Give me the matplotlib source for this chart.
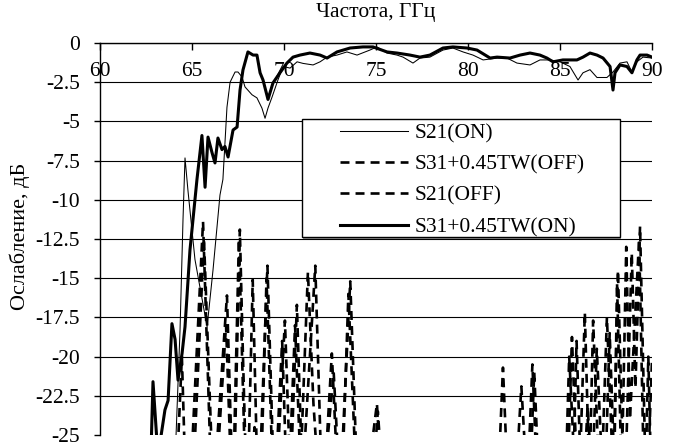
import numpy as np
import matplotlib
matplotlib.use("Agg")
import matplotlib.pyplot as plt
from matplotlib.patches import Rectangle

plt.rcParams['font.family'] = ['Liberation Serif', 'DejaVu Serif']

# S21(ON) - thin solid
f_s21_on = [63.9, 64.13, 64.35, 64.51, 64.62, 64.78, 65.16, 65.82, 66.14, 66.52, 66.68, 66.90,
            67.07, 67.34, 67.50, 67.72, 67.88, 68.26, 68.53, 68.80, 68.97, 69.13, 69.35, 69.67,
            69.95, 70.33, 70.71, 71.03, 71.58, 71.96, 72.34, 72.88, 73.42, 73.97, 74.67, 75.05,
            75.60, 76.14, 76.47, 77.01, 77.39, 77.93, 78.64, 79.18, 79.73, 80.27, 80.82, 81.58,
            82.12, 82.66, 83.37, 83.91, 84.46, 85.00, 85.54, 85.98, 86.25, 86.63, 87.01, 87.55,
            87.88, 88.26, 88.64, 88.91, 89.18, 89.51, 90.0]
s21_on = [-30, -25.1, -18.3, -11.3, -7.33, -9.4, -13.8, -18.1, -14.5, -9.7, -8.7, -4.1,
          -2.5, -1.85, -1.85, -2.17, -2.8, -3.3, -3.5, -4.15, -4.8, -4.15, -3.45, -2.36,
          -1.5, -1.6, -1.2, -1.3, -1.4, -1.2, -0.9, -0.77, -0.57, -0.77, -0.45, -0.25,
          -0.64, -0.77, -0.9, -1.28, -0.96, -0.9, -0.45, -0.32, -0.57, -0.77, -1.08, -0.96,
          -0.96, -1.28, -1.4, -1.08, -1.08, -1.2, -1.5, -2.36, -1.9, -1.7, -2.2, -2.2,
          -1.85, -1.28, -1.2, -1.85, -1.2, -0.9, -0.96]

# S31+0.45TW(ON) - thick solid
f_s31_on = [62.75, 62.88, 63.10, 63.26, 63.53, 63.70, 63.91, 64.08, 64.24, 64.46, 64.62, 64.89,
            65.27, 65.54, 65.71, 65.87, 66.09, 66.25, 66.41, 66.63, 66.79, 66.96, 67.23, 67.45,
            67.61, 67.77, 68.04, 68.32, 68.53, 68.70, 68.86, 69.13, 69.40, 69.62, 69.78, 70.16,
            70.49, 70.87, 71.41, 71.96, 72.34, 72.88, 73.59, 74.29, 74.84, 75.60, 76.14, 76.85,
            77.39, 77.93, 78.64, 79.18, 79.95, 80.49, 81.20, 81.58, 82.28, 82.83, 83.37, 83.91,
            84.29, 84.62, 85.16, 85.92, 86.25, 86.63, 87.01, 87.34, 87.72, 87.88, 87.99, 88.26,
            88.64, 88.91, 89.18, 89.35, 89.73, 90.0]
s31_on = [-27, -21.6, -25.5, -25.5, -23.4, -22.8, -17.9, -18.9, -21.5, -19.8, -18.1, -13.2,
          -8.7, -5.9, -9.2, -6.0, -7.0, -7.65, -6.06, -6.8, -6.6, -7.27, -5.55, -5.36,
          -3.0, -1.72, -0.57, -0.77, -0.77, -1.9, -2.36, -3.6, -2.55, -2.17, -1.9, -1.28,
          -0.9, -0.77, -0.64, -0.77, -0.96, -0.57, -0.32, -0.25, -0.25, -0.57, -0.64, -0.77,
          -0.9, -0.77, -0.32, -0.25, -0.32, -0.45, -0.96, -0.9, -0.96, -0.77, -0.64, -0.77,
          -0.96, -1.2, -1.08, -1.08, -0.9, -0.64, -0.77, -0.96, -1.5, -3.0, -1.9, -1.4,
          -1.5, -1.9, -1.08, -0.77, -0.77, -0.9]

# S31+0.45TW(OFF) - dashed
f_s31_off = [64.0, 64.45, 64.75, 65.6, 66.1, 66.9, 67.25, 67.6, 67.75, 68.0, 68.3, 68.6,
             69.1, 69.5, 70.05, 70.35, 70.7, 71.0, 71.7, 72.1, 72.6, 73.0, 73.6, 74.1,
             75.05, 75.5, 81.5, 81.9, 82.3, 83.1, 83.5, 83.9, 85.3, 85.65, 86.0, 86.35,
             86.6, 86.8, 87.2, 87.55, 87.9, 88.15, 88.5, 88.9, 89.1, 89.35, 89.7, 90.0]
s31_off = [-32, -20.0, -32, -11.4, -30, -16.1, -30, -11.9, -19.1, -30, -15.1, -30,
           -14.2, -30, -17.7, -28, -16.7, -28, -14.2, -30, -19.8, -30, -15.2, -32,
           -23.0, -32, -32, -20.7, -32, -32, -20.5, -32, -32, -18.75, -30, -17.2,
           -28, -17.7, -30, -17.5, -28, -14.5, -30, -13.4, -22, -11.7, -30, -20.2]

# S21(OFF) - dashed
f_s21_off = [64.9, 65.65, 66.2, 66.85, 67.2, 67.55, 67.95, 68.4, 68.7, 69.05, 69.45, 69.9,
             70.2, 70.6, 70.9, 71.3, 71.6, 72.0, 72.7, 73.1, 73.5, 74.0, 74.7, 75.1,
             75.6, 82.4, 82.9, 83.3, 83.6, 84.0, 85.2, 85.5, 85.75, 85.9, 86.2, 86.5,
             86.75, 87.0, 87.4, 87.7, 87.95, 88.1, 88.35, 88.6, 88.8, 89.3, 89.6, 89.8, 90.0]
s21_off = [-32, -12.5, -30, -18.0, -30, -12.5, -30, -24.5, -30, -15.0, -30, -19.0,
           -30, -18.0, -27, -14.6, -23.0, -30, -21.0, -30, -16.0, -30, -30, -23.5,
           -32, -32, -21.9, -30, -21.0, -32, -32, -20.0, -26, -19.0, -30, -23.2,
           -28, -19.5, -30, -18.5, -27, -15.3, -28, -13.0, -24, -12.5, -30, -20.0, -30]

yticks = [-25, -22.5, -20, -17.5, -15, -12.5, -10, -7.5, -5, -2.5, 0]
ytick_labels = ['-25', '-22.5', '-20', '-17.5', '-15', '-12.5', '-10', '-7.5', '-5', '-2.5', '0']
xticks = [60, 65, 70, 75, 80, 85, 90]

fs = 15.5

fig = plt.figure(figsize=(6.77, 4.46), dpi=100)
ax = fig.add_axes([100 / 677, 1 - 435 / 446, 552 / 677, 392 / 446])

l_off1, = ax.plot(f_s31_off, s31_off, color='black', lw=1.9, dashes=(3.4, 2.3), zorder=2)
l_off2, = ax.plot(f_s21_off, s21_off, color='black', lw=1.9, dashes=(3.4, 2.3), zorder=2)
l_on1, = ax.plot(f_s21_on, s21_on, color='black', lw=0.75, zorder=3)
l_on2, = ax.plot(f_s31_on, s31_on, color='black', lw=2.2, solid_joinstyle='round', zorder=4)

ax.set_xlim(60, 90)
ax.set_ylim(-25, 0)
ax.set_yticks(yticks)
ax.set_yticklabels(ytick_labels, fontsize=fs)
ax.set_xticks(xticks)
ax.set_xticklabels([str(x) for x in xticks], fontsize=fs)

ax.xaxis.tick_top()
ax.tick_params(axis='x', direction='in', length=5, width=1, pad=-27)
ax.tick_params(axis='y', direction='out', length=4.5, width=1, pad=10)

for s in ['right', 'bottom']:
    ax.spines[s].set_visible(False)
for s in ['left', 'top']:
    ax.spines[s].set_linewidth(1)

ax.yaxis.grid(True, color='black', lw=0.8)
ax.get_ygridlines()[0].set_visible(False)
ax.set_axisbelow(True)

# legend box with a light shadow
ax.add_patch(Rectangle((0.368, 0.500), 0.576, 0.301, transform=ax.transAxes,
                       facecolor='#8c8c8c', edgecolor='none', zorder=5, clip_on=False))
ax.add_patch(Rectangle((0.366, 0.505), 0.576, 0.301, transform=ax.transAxes,
                       facecolor='white', edgecolor='black', lw=1, zorder=6, clip_on=False))
leg = ax.legend([l_on1, l_off1, l_off2, l_on2],
                ['S21(ON)', 'S31+0.45TW(OFF)', 'S21(OFF)', 'S31+0.45TW(ON)'],
                loc='upper left', bbox_to_anchor=(0.435, 0.795), frameon=False,
                fontsize=fs, handlelength=3.15, handletextpad=0.32,
                borderpad=0, borderaxespad=0, labelspacing=0.52)
leg.set_zorder(7)

fig.text(376 / 677, 1 - 13 / 446, 'Частота, ГГц', ha='center', va='center', fontsize=fs)
fig.text(20 / 677, 1 - 236 / 446, 'Ослабление, дБ', ha='center', va='center',
         rotation=90, fontsize=16)

fig.savefig('out.png', dpi=100)
